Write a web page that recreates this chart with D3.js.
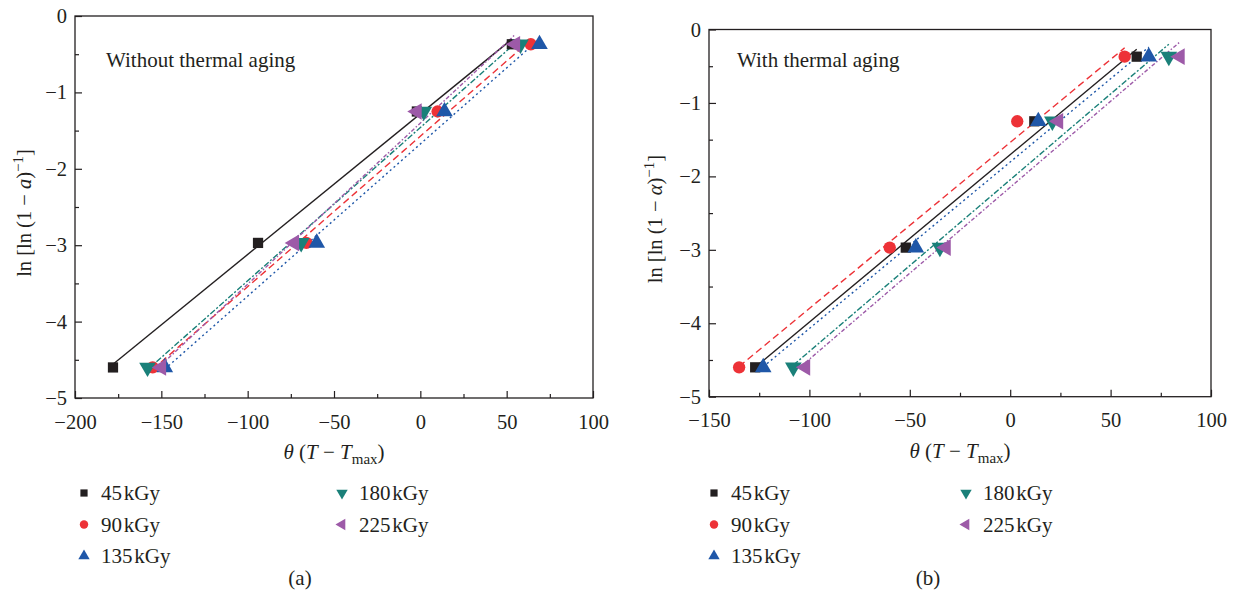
<!DOCTYPE html>
<html>
<head>
<meta charset="utf-8">
<script src="https://cdn.jsdelivr.net/npm/d3@7"></script>
<style>
  body { margin: 0; background: #fff; }
  svg text { font-family: "Liberation Serif", "DejaVu Serif", serif; fill: #231f20; }
</style>
</head>
<body>
<div id="chart"></div>
<script>
// Dose levels and their styling in legend order
const doses = ["45", "90", "135", "180", "225"];
const colors = ["#231f20", "#ed3237", "#1f57a8", "#1a8079", "#9d5aa8"];
const dashes = [null, "7,4", "2,3", "6,2,2,2", "4,2,1.5,2"];
const shapes = ["square", "circle", "up", "down", "left"];

// ln[ln(1-a)^-1] levels, shared by every series
const lnLevels = [-4.60, -2.97, -1.25, -0.37];

// theta (T - Tmax), one row per dose
const thetaWithout = [
  [-178, -94, -2, 53],
  [-155, -66, 10, 64],
  [-148, -60, 14, 69],
  [-158, -69, 2, 58],
  [-150, -73, -2, 55]
];
// theta (T - Tmax)
const thetaWith = [
  [-127, -52, 12, 63],
  [-135, -60, 3.5, 57],
  [-123, -47, 14, 69],
  [-108, -35, 21, 79],
  [-102, -32, 24, 84.5]
];

const xTicksA = [-200, -150, -100, -50, 0, 50, 100];
const xTicksB = [-150, -100, -50, 0, 50, 100];
const yTicks = [0, -1, -2, -3, -4, -5];

const width = 1237, height = 607;
const svg = d3.select("#chart").append("svg")
  .attr("width", width).attr("height", height);

// symbol path for each marker shape
function markerPath(shape, size) {
  if (shape === "square") return d3.symbol(d3.symbolSquare, size)();
  if (shape === "circle") return d3.symbol(d3.symbolCircle, size)();
  return d3.symbol(d3.symbolTriangle, size)();
}
function markerRot(shape) {
  if (shape === "down") return 180;
  if (shape === "left") return -90;
  return 0;
}

// least squares line through one series
function fit(xs, ys) {
  const mx = d3.mean(xs), my = d3.mean(ys);
  let sxy = 0, sxx = 0;
  xs.forEach((x, i) => { sxy += (x - mx) * (ys[i] - my); sxx += (x - mx) * (x - mx); });
  const b = sxy / sxx;
  return x => my + b * (x - mx);
}

function drawPanel(cfg) {
  const x = d3.scaleLinear().domain(cfg.xDomain).range(cfg.xRange);
  const y = d3.scaleLinear().domain([-5, 0]).range(cfg.yRange);
  const g = svg.append("g");

  // frame
  g.append("rect")
    .attr("x", cfg.xRange[0]).attr("y", cfg.yRange[1])
    .attr("width", cfg.xRange[1] - cfg.xRange[0])
    .attr("height", cfg.yRange[0] - cfg.yRange[1])
    .attr("fill", "none").attr("stroke", "#231f20").attr("stroke-width", 1.3);

  // minor ticks (inside)
  const xMinor = d3.range(cfg.xDomain[0] + 25, cfg.xDomain[1], 50);
  const yMinor = d3.range(-4.5, 0, 1);
  g.append("g").attr("transform", `translate(0,${cfg.yRange[0]})`)
    .call(d3.axisBottom(x).tickValues(xMinor).tickSize(-4).tickFormat(""))
    .call(a => a.select(".domain").remove());
  g.append("g").attr("transform", `translate(${cfg.xRange[0]},0)`)
    .call(d3.axisLeft(y).tickValues(yMinor).tickSize(-4).tickFormat(""))
    .call(a => a.select(".domain").remove());

  // major ticks + labels
  const xa = g.append("g").attr("transform", `translate(0,${cfg.yRange[0]})`)
    .call(d3.axisBottom(x).tickValues(cfg.xTicks).tickSize(-7).tickPadding(16).tickFormat(d3.format("d")));
  const ya = g.append("g").attr("transform", `translate(${cfg.xRange[0]},0)`)
    .call(d3.axisLeft(y).tickValues(yTicks).tickSize(-7).tickPadding(8).tickFormat(d3.format("d")));
  [xa, ya].forEach(a => {
    a.select(".domain").remove();
    a.selectAll("text").attr("font-size", 20.5).attr("fill", "#231f20")
      .style("font-family", '"Liberation Serif", serif');
  });
  g.selectAll(".tick line").attr("stroke", "#231f20").attr("stroke-width", 1.2);

  // fitted lines
  cfg.data.forEach((xs, i) => {
    const f = fit(xs, lnLevels);
    const x0 = d3.min(xs), x1 = d3.max(xs);
    g.append("line")
      .attr("x1", x(x0)).attr("y1", y(f(x0)))
      .attr("x2", x(x1)).attr("y2", y(f(x1)))
      .attr("stroke", colors[i]).attr("stroke-width", 1.4)
      .attr("stroke-dasharray", dashes[i]);
  });

  // markers
  cfg.data.forEach((xs, i) => {
    g.append("g").selectAll("path")
      .data(xs.map((v, j) => [v, lnLevels[j]]))
      .join("path")
      .attr("d", markerPath(shapes[i], shapes[i] === "square" ? 105 : 120))
      .attr("transform", d => `translate(${x(d[0])},${y(d[1])}) rotate(${markerRot(shapes[i])})`)
      .attr("fill", colors[i]);
  });

  // annotation inside plot
  g.append("text").attr("x", cfg.noteX).attr("y", cfg.noteY)
    .attr("font-size", 21).text(cfg.note);

  // x axis title
  const cx = (cfg.xRange[0] + cfg.xRange[1]) / 2;
  const xt = g.append("text").attr("x", cx).attr("y", cfg.yRange[0] + 61)
    .attr("text-anchor", "middle").attr("font-size", 21);
  xt.append("tspan").attr("font-style", "italic").text("θ");
  xt.append("tspan").text(" (");
  xt.append("tspan").attr("font-style", "italic").text("T");
  xt.append("tspan").text(" − ");
  xt.append("tspan").attr("font-style", "italic").text("T");
  xt.append("tspan").attr("font-size", 15).attr("dy", 5).text("max");
  xt.append("tspan").attr("dy", -5).text(")");

  // y axis title
  const cy = (cfg.yRange[0] + cfg.yRange[1]) / 2 + 6;
  const yt = g.append("text")
    .attr("transform", `translate(${cfg.yTitleX},${cy}) rotate(-90)`)
    .attr("text-anchor", "middle").attr("font-size", 20.5);
  yt.append("tspan").text("ln [ln (1 − ");
  yt.append("tspan").attr("font-style", "italic").text(cfg.sym);
  yt.append("tspan").text(")");
  yt.append("tspan").attr("font-size", 15).attr("dy", -8).text("−1");
  yt.append("tspan").attr("dy", 8).text("]");

  // legend in two columns
  doses.forEach((d, i) => {
    const col = i < 3 ? 0 : 1;
    const row = i < 3 ? i : i - 3;
    const lx = cfg.legX[col], ly = 493 + row * 31.5;
    g.append("path")
      .attr("d", markerPath(shapes[i], shapes[i] === "square" ? 52 : 56))
      .attr("transform", `translate(${lx},${ly}) rotate(${markerRot(shapes[i])})`)
      .attr("fill", colors[i]);
    g.append("text").attr("x", lx + 17).attr("y", ly + 7)
      .attr("font-size", 21).text(d + "\u200akGy");
  });

  g.append("text").attr("x", cfg.capX).attr("y", 585)
    .attr("text-anchor", "middle").attr("font-size", 21).text(cfg.cap);
}

drawPanel({
  xDomain: [-200, 100], xRange: [75, 593], yRange: [398, 16],
  xTicks: xTicksA, data: thetaWithout,
  note: "Without thermal aging", noteX: 106, noteY: 67,
  sym: "a", yTitleX: 31, legX: [84, 342], capX: 300, cap: "(a)"
});
drawPanel({
  xDomain: [-150, 100], xRange: [709, 1211], yRange: [396.7, 29.5],
  xTicks: xTicksB, data: thetaWith,
  note: "With thermal aging", noteX: 737, noteY: 67,
  sym: "α", yTitleX: 662, legX: [714, 966], capX: 928, cap: "(b)"
});
</script>
</body>
</html>
